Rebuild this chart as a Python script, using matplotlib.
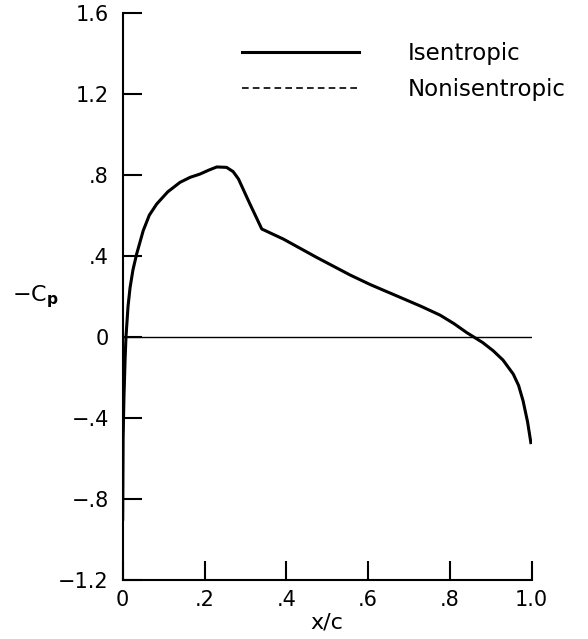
import matplotlib
matplotlib.use("Agg")
import matplotlib.pyplot as plt

# Pressure distribution along the chord
x_c = [0.0, 0.001, 0.003, 0.006, 0.008, 0.013, 0.018, 0.025, 0.034, 0.05, 0.065,
       0.083, 0.11, 0.14, 0.165, 0.189, 0.21, 0.23, 0.254, 0.27, 0.283, 0.31,
       0.34, 0.393, 0.474, 0.556, 0.605, 0.678, 0.73, 0.776, 0.81, 0.841, 0.88,
       0.906, 0.93, 0.955, 0.968, 0.979, 0.99, 0.998]
cp_isentropic = [-0.90, -0.50, -0.30, -0.10, 0.0, 0.15, 0.243, 0.33, 0.408, 0.523, 0.60,
                 0.655, 0.715, 0.762, 0.787, 0.803, 0.822, 0.838, 0.836, 0.815, 0.779, 0.66,
                 0.532, 0.482, 0.392, 0.305, 0.258, 0.195, 0.15, 0.107, 0.065, 0.021, -0.028,
                 -0.069, -0.115, -0.184, -0.24, -0.316, -0.42, -0.522]
# the nonisentropic solution lies on top of the isentropic one
cp_nonisentropic = list(cp_isentropic)

x_ticks = [0, 0.2, 0.4, 0.6, 0.8, 1.0]
x_ticklabels = ['0', '.2', '.4', '.6', '.8', '1.0']
y_ticks = [-1.2, -0.8, -0.4, 0, 0.4, 0.8, 1.2, 1.6]
y_ticklabels = ['\u22121.2', '\u2212.8', '\u2212.4', '0', '.4', '.8', '1.2', '1.6']

plt.rcParams['font.family'] = ['DejaVu Sans']
plt.rcParams['mathtext.fontset'] = 'dejavusans'

fig = plt.figure(figsize=(5.88, 6.39), dpi=100)
ax = fig.add_axes([0.2087, 0.0923, 0.6955, 0.8881])

ax.plot([0, 1.0], [0, 0], color='black', lw=1.0)
ax.plot(x_c, cp_nonisentropic, color='black', lw=1.2, ls=(0, (4, 2.5)), label='Nonisentropic')
ax.plot(x_c, cp_isentropic, color='black', lw=2.2, label='Isentropic')

ax.set_xlim(0, 1.0)
ax.set_ylim(-1.2, 1.6)
ax.set_xticks(x_ticks)
ax.set_xticklabels(x_ticklabels)
ax.set_yticks(y_ticks)
ax.set_yticklabels(y_ticklabels)

for side in ['top', 'right']:
    ax.spines[side].set_visible(False)
for side in ['left', 'bottom']:
    ax.spines[side].set_linewidth(1.5)

ax.tick_params(axis='both', direction='in', length=14, width=1.5, labelsize=15)
ax.tick_params(axis='y', pad=10)
ax.tick_params(axis='x', pad=7)

ax.set_xlabel('x/c', fontsize=16, labelpad=2)
ax.set_ylabel(r'$-\mathrm{C}_\mathbf{p}$', fontsize=16, rotation=0, ha='center', va='center')
ax.yaxis.set_label_coords(-0.214, 0.5)

handles, labels = ax.get_legend_handles_labels()
ax.legend(handles[::-1], labels[::-1], loc='upper left', bbox_to_anchor=(0.27, 0.965),
          frameon=False, fontsize=16.5, handlelength=5.1, handletextpad=2.1,
          labelspacing=0.6, borderaxespad=0)

fig.savefig('out.png', dpi=100)
